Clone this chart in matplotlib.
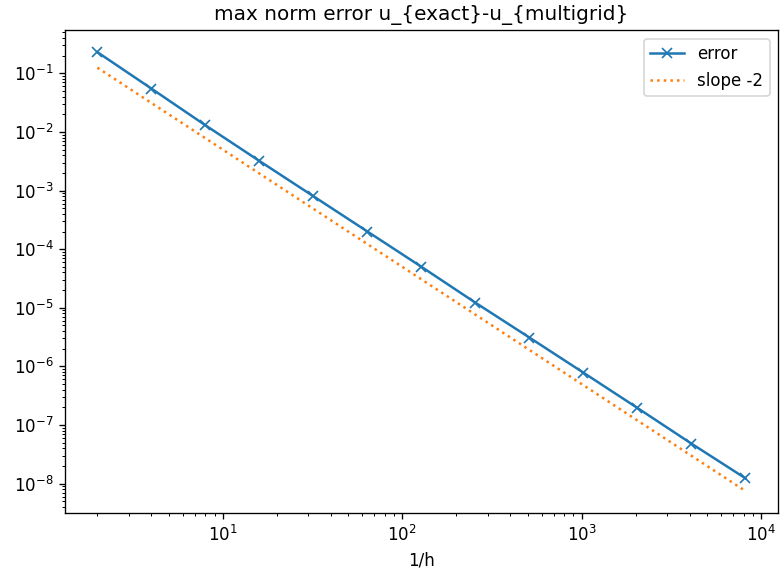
import numpy as np
import matplotlib
matplotlib.use("Agg")
import matplotlib.pyplot as plt

# valores
n = [2, 4, 8, 16, 32, 64, 128, 256, 512, 1024, 2048, 4096, 8192]
erro = [0.23, 0.055, 0.013, 3.2e-3, 8.0e-4, 2.0e-4, 5.0e-5, 1.22e-5,
        3.1e-6, 7.8e-7, 1.95e-7, 4.8e-8, 1.23e-8]
inclinacao = [0.125, 3.125e-2, 7.8125e-3, 1.953e-3, 4.883e-4, 1.221e-4,
              3.052e-5, 7.629e-6, 1.907e-6, 4.768e-7, 1.192e-7, 2.98e-8, 7.45e-9]

fig = plt.figure(figsize=(6.5, 581 / 120), dpi=120)
ax = fig.add_axes([0.0833, 0.117, 0.914, 0.831])
ax.loglog(n, erro, marker='x', label='error')
ax.loglog(n, inclinacao, linestyle=':', label='slope -2')
ax.set_title('max norm error u_{exact}-u_{multigrid}')
ax.set_xlabel('1/h')
ax.legend()
fig.savefig('out.png', dpi=120)
